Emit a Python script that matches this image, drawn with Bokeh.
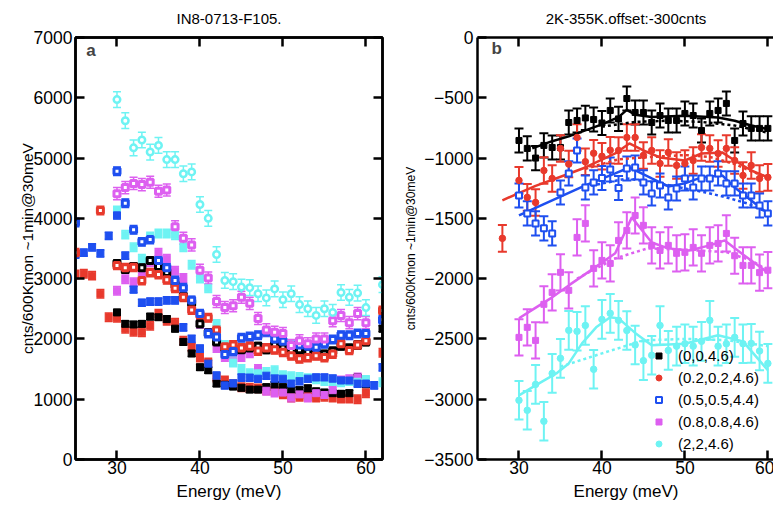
from bokeh.plotting import figure
from bokeh.layouts import row
from bokeh.models import (ColumnDataSource, Whisker, TeeHead, LinearAxis, FixedTicker,
                          Legend, LegendItem, Label, Range1d)
from bokeh.embed import file_html
from bokeh.resources import INLINE

# ---------------- colours ----------------
C_BLACK = "#000000"
C_RED = "#e8392c"
C_BLUE = "#1e4ff0"
C_MAG = "#dd5ff0"
C_CYAN = "#6ef3f3"

FONT = "Liberation Sans"

# ---------------- panel a data (cnts) ----------------
E30_60 = list(range(30, 61))

a_cyan_open_E = E30_60 + [62]
a_cyan_open = [5970, 5620, 5170, 5300, 5100, 5210, 4975, 4975, 4740, 4770, 4230, 4000, 3400,
               2970, 2950, 2860, 2850, 2750, 2680, 2830, 2650, 2750, 2570, 2500, 2390, 2500,
               2440, 2770, 2690, 2760, 2520, 2900]

a_mag_open_E = E30_60
a_mag_open = [4410, 4510, 4580, 4560, 4600, 4450, 4470, 3860, 3670, 3560, 3140, 3010, 2620,
              2520, 2550, 2690, 2590, 2340, 2150, 2110, 2090, 1890, 1970, 1920, 2000, 2000,
              2300, 2390, 2270, 2420, 2270]

a_blue_open_E = [25] + E30_60 + [62]
a_blue_open = [3930, 4780, 4250, 3810, 3610, 3650, 3300, 3180, 2970, 2850, 2640, 2420, 2090,
               2030, 1740, 1790, 2020, 2040, 2060, 2110, 2000, 1960, 1890, 1900, 1880, 1860,
               1920, 1990, 2060, 2060, 2090, 2090, 2320]

a_red_open_E = [25, 28] + E30_60 + [62]
a_red_open = [3430, 4130, 3220, 3180, 3190, 2970, 3100, 3070, 2980, 2840, 2690, 2480, 2400,
              2350, 2150, 1870, 1900, 1850, 1880, 1800, 1850, 1820, 1780, 1720, 1670, 1690,
              1720, 1690, 1750, 1920, 1810, 1900, 1970, 2470]

a_black_open_E = E30_60
a_black_open = [3250, 3150, 3200, 3180, 3300, 3200, 3100, 2900, 2700, 2600, 2250, 2100, 1950,
                1850, 1800, 1820, 1850, 1880, 1820, 1900, 1850, 1800, 1820, 1780, 1780, 1750,
                1800, 1880, 1850, 1900, 1950]

a_black_fill_E = E30_60 + [62]
a_black_fill = [2440, 2250, 2240, 2250, 2370, 2360, 2330, 2170, 1950, 1760, 1530, 1480, 1260,
                1240, 1210, 1190, 1160, 1160, 1200, 1240, 1200, 1160, 1150, 1180, 1130, 1110,
                1100, 1090, 1100, 1360, 1250, 2170]

a_red_fill_E = list(range(25, 61)) + [62]
a_red_fill = [3070, 3080, 3050, 2750, 2360, 2350, 2170, 2120, 2110, 2220, 2420, 2300, 2270,
              1970, 1860, 1690, 1610, 1360, 1310, 1250, 1200, 1190, 1180, 1150, 1140, 1080,
              1030, 1040, 1050, 1030, 1040, 1030, 1010, 1010, 1000, 1100, 1770]

a_blue_fill_E = list(range(25, 62)) + [62]
a_blue_fill = [3400, 3430, 3520, 3420, 3710, 4050, 3380, 2820, 2600, 2620, 2620, 2640, 2640,
               2190, 2000, 1840, 1590, 1390, 1230, 1260, 1360, 1360, 1340, 1390, 1340, 1340,
               1260, 1300, 1340, 1360, 1360, 1340, 1310, 1310, 1260, 1260, 1230, 1530]

a_mag_fill_E = E30_60
a_mag_fill = [2800, 2990, 2940, 3050, 3270, 3430, 3330, 3130, 3010, 2500, 2250, 2100, 1850,
              1700, 1620, 1700, 1760, 1500, 1140, 1110, 1110, 1030, 1080, 1030, 1100, 1070,
              1150, 1310, 1330, 1360, 1300]

a_cyan_fill_E = E30_60 + [62]
a_cyan_fill = [4130, 3730, 3520, 3330, 3700, 3750, 3750, 3720, 3520, 3230, 3000, 2840, 2250,
               1900, 1610, 1500, 1430, 1430, 1450, 1480, 1400, 1380, 1370, 1350, 1330, 1300,
               1300, 1280, 1300, 1290, 1320, 1280]

# ---------------- panel b data (cnts, offset) ----------------
b_black_E = E30_60
b_black = [-854, -920, -1000, -895, -912, -912, -705, -688, -667, -680, -709, -605, -675, -506,
           -622, -622, -705, -647, -688, -688, -630, -647, -771, -630, -605, -547, -854, -713,
           -754, -754, -754]
b_red_E = [28] + E30_60
b_red = [-1666, -1185, -1326, -1368, -1103, -1169, -920, -1050, -829, -1030, -960, -985, -935,
         -937, -829, -829, -978, -937, -1045, -953, -1061, -1045, -1020, -912, -920, -962, -920,
         -1020, -1144, -1061, -1169, -1160]
b_blue_E = E30_60
b_blue = [-1310, -1459, -1542, -1583, -1625, -1285, -1127, -937, -1244, -1202, -1165, -1095,
          -1248, -1086, -1078, -1202, -1293, -1227, -1326, -1252, -1169, -1244, -1169, -1169,
          -1127, -1210, -1210, -1310, -1310, -1393, -1459]
b_mag_E = E30_60
b_mag = [-2487, -2404, -2512, -2213, -2114, -1948, -2097, -1658, -1542, -1915, -1849, -1874,
         -1683, -1600, -1476, -1558, -1724, -1766, -1724, -1790, -1782, -1741, -1790, -1724,
         -1708, -1625, -1810, -1890, -1890, -1950, -1930]
b_cyan_E = E30_60
b_cyan = [-3009, -3092, -2877, -3183, -2786, -2661, -2429, -2437, -2388, -2752, -2338, -2288,
          -2346, -2430, -2550, -2680, -2636, -2388, -2595, -2560, -2540, -2560, -2520, -2346,
          -2560, -2540, -2487, -2540, -2537, -2600, -2703]

# fit curves (solid = total, dotted = background)
fit_black_E = [31.6, 34, 36, 38, 40, 42, 43, 44, 46, 50, 54, 56, 58, 60]
fit_black = [-920, -860, -820, -770, -720, -660, -600, -640, -660, -650, -663, -690, -730, -760]
bg_black_E = [40, 44, 48, 52, 56, 60]
bg_black = [-740, -700, -690, -700, -730, -790]

fit_red_E = [28, 32, 36, 38, 41.6, 43.3, 45, 47, 50, 52, 54.5, 56, 58, 60]
fit_red = [-1350, -1230, -1130, -1078, -962, -879, -937, -995, -1020, -962, -953, -1020, -1103, -1160]
bg_red_E = [38, 42, 46, 50, 53, 56, 58, 60]
bg_red = [-1090, -1010, -990, -975, -990, -1050, -1110, -1160]

fit_blue_E = [30, 34, 38, 41.6, 43.3, 46, 48, 50, 52, 54.5, 56, 58, 60]
fit_blue = [-1476, -1350, -1227, -1127, -1078, -1169, -1235, -1210, -1160, -1144, -1244, -1351, -1459]
bg_blue_E = [38, 43, 47, 50, 52.5, 55, 57.5, 60]
bg_blue = [-1240, -1169, -1210, -1252, -1285, -1326, -1376, -1451]

fit_mag_E = [30, 31.5, 34, 36, 39, 41.6, 43.6, 46, 48, 50.5, 53, 54.8, 57, 60]
fit_mag = [-2329, -2263, -2155, -2056, -1915, -1790, -1492, -1700, -1749, -1766, -1724, -1683, -1800, -1950]
bg_mag_E = [37, 41.6, 45.5, 50, 55, 58, 60]
bg_mag = [-2000, -1832, -1749, -1760, -1780, -1850, -1930]

fit_cyan_E = [30, 32, 34.5, 36, 37.6, 39.3, 41, 42, 44, 46, 50, 54, 57, 60]
fit_cyan = [-2968, -2885, -2786, -2703, -2537, -2404, -2321, -2330, -2450, -2553, -2540, -2470, -2520, -2760]
bg_cyan_E = [35, 40, 45, 50, 55, 60]
bg_cyan = [-2730, -2620, -2512, -2500, -2510, -2560]

legend_labels = ["(0,0,4.6)", "(0.2,0.2,4.6)", "(0.5,0.5,4.4)", "(0.8,0.8,4.6)", "(2,2,4.6)"]

x_ticks = [30, 40, 50, 60]
ya_ticks = [0, 1000, 2000, 3000, 4000, 5000, 6000, 7000]
yb_ticks = [-3500, -3000, -2500, -2000, -1500, -1000, -500, 0]


def style_axis(ax, show_labels=True):
    ax.axis_line_width = 2.5
    ax.axis_line_color = "black"
    ax.major_tick_line_width = 2.5
    ax.major_tick_in = 9
    ax.major_tick_out = 0
    ax.minor_tick_line_color = None
    ax.major_label_text_font = FONT
    ax.axis_label_text_font = FONT
    ax.axis_label_text_font_style = "normal"
    ax.axis_label_text_color = "black"
    if show_labels:
        ax.major_label_text_font_size = "17.5px"
        ax.major_label_text_color = "black"
    else:
        ax.major_label_text_font_size = "0px"
        ax.major_label_text_color = None
        ax.major_label_standoff = 0


def series(p, xs, ys, err, color, marker, size, open_=False, lw=2.0, head=8, ewidth=1.5):
    src = ColumnDataSource(dict(x=xs, y=ys,
                                up=[v + err for v in ys], lo=[v - err for v in ys]))
    w = Whisker(source=src, base="x", upper="up", lower="lo", dimension="height",
                line_color=color, line_width=ewidth,
                upper_head=TeeHead(size=head, line_color=color, line_width=ewidth),
                lower_head=TeeHead(size=head, line_color=color, line_width=ewidth))
    p.add_layout(w)
    if open_:
        r = p.scatter("x", "y", source=src, marker=marker, size=size, fill_color="white",
                      line_color=color, line_width=lw)
    else:
        r = p.scatter("x", "y", source=src, marker=marker, size=size, fill_color=color,
                      line_color=color, line_width=1)
    return r


# ================= panel a =================
p1 = figure(frame_width=307, frame_height=422, x_range=Range1d(25, 62), y_range=Range1d(0, 7000),
            output_backend="svg", toolbar_location=None,
            min_border_left=75, min_border_right=19, min_border_top=37, min_border_bottom=48,
            x_axis_label="Energy (meV)", y_axis_label="cnts/600Kmon ~1min@30meV")
p1.xgrid.visible = False
p1.ygrid.visible = False
p1.outline_line_color = "black"
p1.outline_line_width = 2.5
p1.background_fill_color = "white"
p1.border_fill_color = "white"

p1.xaxis.ticker = FixedTicker(ticks=x_ticks)
p1.yaxis.ticker = FixedTicker(ticks=ya_ticks)
for ax in p1.xaxis + p1.yaxis:
    style_axis(ax)
p1.xaxis.axis_label_text_font_size = "17px"
p1.xaxis.major_label_standoff = 1
p1.xaxis.axis_label_standoff = 5
p1.yaxis.axis_label_text_font_size = "15.5px"
p1.yaxis.major_label_standoff = 3
p1.yaxis.axis_label_standoff = -5

top1 = LinearAxis(ticker=FixedTicker(ticks=x_ticks), axis_label="IN8-0713-F105.")
style_axis(top1, show_labels=False)
top1.axis_label_text_font_size = "15px"
top1.axis_label_standoff = 11
p1.add_layout(top1, "above")
right1 = LinearAxis(ticker=FixedTicker(ticks=ya_ticks))
style_axis(right1, show_labels=False)
p1.add_layout(right1, "right")

# filled (low) series
series(p1, a_red_fill_E, a_red_fill, 70, C_RED, "square", 7)
series(p1, a_black_fill_E, a_black_fill, 50, C_BLACK, "square", 7)
series(p1, a_mag_fill_E, a_mag_fill, 70, C_MAG, "square", 7)
series(p1, a_cyan_fill_E, a_cyan_fill, 70, C_CYAN, "square", 7)
series(p1, a_blue_fill_E, a_blue_fill, 60, C_BLUE, "square", 7)
# open (high) series
series(p1, a_black_open_E, a_black_open, 60, C_BLACK, "square", 6, open_=True, lw=3)
series(p1, a_red_open_E, a_red_open, 70, C_RED, "square", 6, open_=True, lw=3)
series(p1, a_blue_open_E, a_blue_open, 70, C_BLUE, "square", 6, open_=True, lw=3)
series(p1, a_mag_open_E, a_mag_open, 100, C_MAG, "square", 6, open_=True, lw=3)
series(p1, a_cyan_open_E, a_cyan_open, 130, C_CYAN, "circle", 6.5, open_=True, lw=2.5)

p1.add_layout(Label(x=26.3, y=6790, text="a", text_font=FONT, text_font_style="bold",
                    text_font_size="17px", text_baseline="alphabetic"))

# ================= panel b =================
p2 = figure(frame_width=297, frame_height=422, x_range=Range1d(25, 60.8), y_range=Range1d(-3500, 0),
            output_backend="svg", toolbar_location=None,
            min_border_left=75, min_border_right=0, min_border_top=37, min_border_bottom=48,
            x_axis_label="Energy (meV)", y_axis_label="cnts/600Kmon ~1min@30meV")
p2.xgrid.visible = False
p2.ygrid.visible = False
p2.outline_line_color = None
p2.background_fill_color = "white"
p2.border_fill_color = "white"
p2.xaxis.ticker = FixedTicker(ticks=x_ticks)
p2.yaxis.ticker = FixedTicker(ticks=yb_ticks)
for ax in p2.xaxis + p2.yaxis:
    style_axis(ax)
p2.xaxis.axis_label_text_font_size = "17px"
p2.xaxis.major_label_standoff = 1
p2.xaxis.axis_label_standoff = 5
p2.yaxis.axis_label_text_font_size = "12px"
p2.yaxis.major_label_standoff = 4
p2.yaxis.axis_label_standoff = 3

top2 = LinearAxis(ticker=FixedTicker(ticks=x_ticks), axis_label="2K-355K.offset:-300cnts")
style_axis(top2, show_labels=False)
top2.axis_label_text_font_size = "15px"
top2.axis_label_standoff = 11
p2.add_layout(top2, "above")

# fit lines
for fe, fv, be, bv, col in [(fit_black_E, fit_black, bg_black_E, bg_black, C_BLACK),
                            (fit_red_E, fit_red, bg_red_E, bg_red, C_RED),
                            (fit_blue_E, fit_blue, bg_blue_E, bg_blue, C_BLUE),
                            (fit_mag_E, fit_mag, bg_mag_E, bg_mag, C_MAG),
                            (fit_cyan_E, fit_cyan, bg_cyan_E, bg_cyan, C_CYAN)]:
    p2.line(be, bv, line_color=col, line_width=2.5, line_dash="3 3")
    p2.line(fe, fv, line_color=col, line_width=2.5)

r_k = series(p2, b_black_E, b_black, 100, C_BLACK, "square", 6, head=9, ewidth=2)
r_r = series(p2, b_red_E, b_red, 110, C_RED, "circle", 6.5, head=9, ewidth=2)
r_b = series(p2, b_blue_E, b_blue, 100, C_BLUE, "square", 6, open_=True, lw=2, head=9, ewidth=2)
r_m = series(p2, b_mag_E, b_mag, 150, C_MAG, "square", 6, head=9, ewidth=2)
r_c = series(p2, b_cyan_E, b_cyan, 160, C_CYAN, "circle", 6.5, head=9, ewidth=2)

legend = Legend(items=[LegendItem(label=lab, renderers=[r]) for lab, r in
                       zip(legend_labels, [r_k, r_r, r_b, r_m, r_c])],
                location=(174, 6), border_line_color=None, background_fill_alpha=0,
                padding=0, margin=0, spacing=2, label_height=20, glyph_height=15,
                glyph_width=15, label_standoff=12, label_text_font=FONT,
                label_text_font_size="15px", label_text_color="black")
p2.add_layout(legend)

p2.add_layout(Label(x=26.7, y=-95, text="b", text_font=FONT, text_font_style="bold",
                    text_font_size="17px", text_baseline="alphabetic"))

layout = row(p1, p2)
open("out.html", "w").write(file_html(layout, INLINE))
